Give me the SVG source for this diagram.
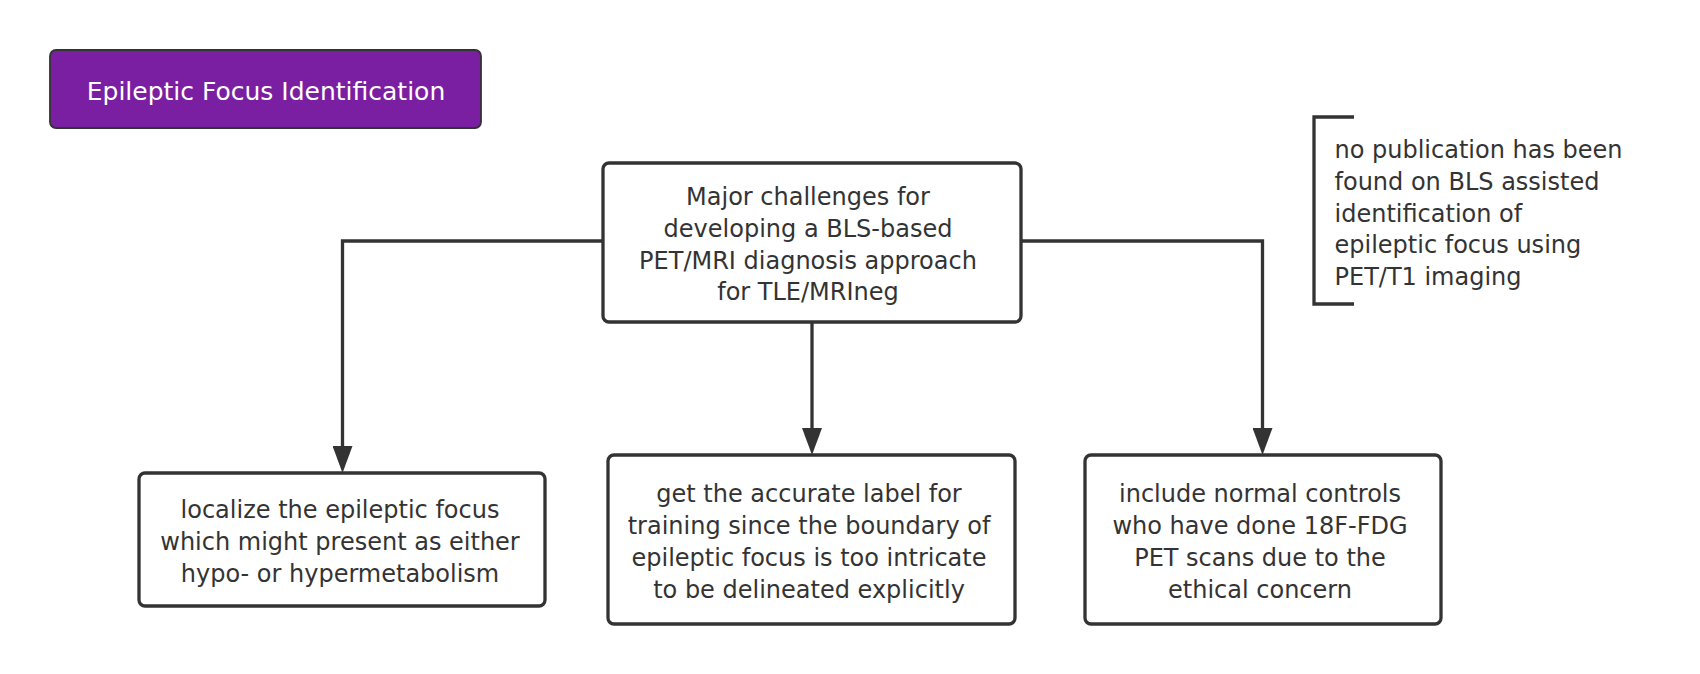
<svg xmlns="http://www.w3.org/2000/svg" width="1700" height="674" viewBox="0 0 1700 674">
  <style>
    .box { fill: #ffffff; stroke: #333333; stroke-width: 3.3; }
    .title { fill: #7B1FA2; stroke: #333333; stroke-width: 1.8; }
    .txt { font-family: "DejaVu Sans", "Liberation Sans", sans-serif; font-size: 24px; fill: #333333; }
    .mid { text-anchor: middle; }
    .ttxt { font-family: "DejaVu Sans", "Liberation Sans", sans-serif; font-size: 25px; fill: #ffffff; text-anchor: middle; }
    .conn { fill: none; stroke: #333333; stroke-width: 3.3; }
  </style>
  <defs>
    <marker id="arrow" markerUnits="userSpaceOnUse" markerWidth="27" markerHeight="20" viewBox="0 0 27 20" refX="2" refY="10" orient="auto">
      <path d="M0,0 L27,10 L0,20 Z" fill="#333333"/>
    </marker>
  </defs>
  <rect width="1700" height="674" fill="#ffffff"/>

  <g id="title">
    <rect class="title" x="50" y="50" width="431" height="78" rx="6"/>
    <text class="ttxt" x="266" y="100">Epileptic Focus Identification</text>
  </g>

  <g id="connectors">
    <path class="conn" d="M603,241 H342.5 V448" marker-end="url(#arrow)"/>
    <path class="conn" d="M812,322 V430" marker-end="url(#arrow)"/>
    <path class="conn" d="M1021,241 H1262.5 V430" marker-end="url(#arrow)"/>
  </g>

  <g id="challenges">
    <rect class="box" x="603" y="163" width="418" height="159" rx="6"/>
    <text class="txt mid" x="808" y="205">Major challenges for</text>
    <text class="txt mid" x="808" y="237">developing a BLS-based</text>
    <text class="txt mid" x="808" y="268.5">PET/MRI diagnosis approach</text>
    <text class="txt mid" x="808" y="300">for TLE/MRIneg</text>
  </g>

  <g id="note">
    <path class="conn" d="M1354,117 H1314 V304 H1354" stroke-width="3"/>
    <text class="txt" x="1334.5" y="158">no publication has been</text>
    <text class="txt" x="1334.5" y="190">found on BLS assisted</text>
    <text class="txt" x="1334.5" y="221.5">identification of</text>
    <text class="txt" x="1334.5" y="253">epileptic focus using</text>
    <text class="txt" x="1334.5" y="285">PET/T1 imaging</text>
  </g>

  <g id="localize">
    <rect class="box" x="139" y="473" width="406" height="133" rx="6"/>
    <text class="txt mid" x="340" y="518">localize the epileptic focus</text>
    <text class="txt mid" x="340" y="550">which might present as either</text>
    <text class="txt mid" x="340" y="582">hypo- or hypermetabolism</text>
  </g>

  <g id="label">
    <rect class="box" x="608" y="455" width="407" height="169" rx="6"/>
    <text class="txt mid" x="809" y="502">get the accurate label for</text>
    <text class="txt mid" x="809" y="534">training since the boundary of</text>
    <text class="txt mid" x="809" y="566">epileptic focus is too intricate</text>
    <text class="txt mid" x="809" y="597.5">to be delineated explicitly</text>
  </g>

  <g id="controls">
    <rect class="box" x="1085" y="455" width="356" height="169" rx="6"/>
    <text class="txt mid" x="1260" y="502">include normal controls</text>
    <text class="txt mid" x="1260" y="534">who have done 18F-FDG</text>
    <text class="txt mid" x="1260" y="566">PET scans due to the</text>
    <text class="txt mid" x="1260" y="597.5">ethical concern</text>
  </g>
</svg>
